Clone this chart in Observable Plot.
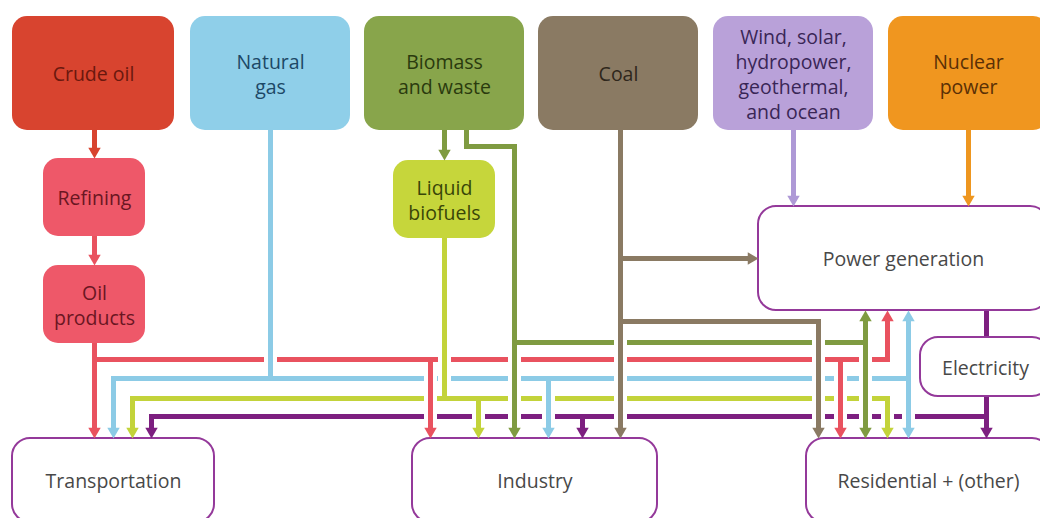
<!DOCTYPE html>
<html><head><meta charset="utf-8">
<script src="https://cdn.jsdelivr.net/npm/d3@7"></script>
<script src="https://cdn.jsdelivr.net/npm/@observablehq/plot@0.6"></script>
<style>
html,body{margin:0;padding:0;background:#fff;overflow:hidden;}
#chart svg{display:block;overflow:hidden;}
</style></head><body><div id="chart"></div>
<script>
const W = 1040, H = 518;

// ---- nodes (diagram boxes) ----
const nodeNames = ["Crude oil","Natural\ngas","Biomass\nand waste","Coal","Wind, solar,\nhydropower,\ngeothermal,\nand ocean","Nuclear\npower","Refining","Oil\nproducts","Liquid\nbiofuels","Power generation","Electricity","Transportation","Industry","Residential + (other)"];
const nodeKind   = ["source","source","source","source","source","source","step","step","step","use","use","use","use","use"];
const nodeLeft   = [12,190,364,538,713,888,43,43,393,758,920,12,412,806];
const nodeRight  = [174,350,524,698,873,1048,145,145,495,1048,1050,214,657,1050];
const nodeTop    = [16,16,16,16,16,16,158,265,160,206,337,438,438,438];
const nodeBottom = [130,130,130,130,130,130,236,343,238,310,396,522,522,522];

// ---- flows (carrier, route, arrowheads) ----
const flowCarrier = ["crude","oil","oil","oil","oil","oil","gas","gas","gas","gas","gas","biomass","biomass","biomass","biomass","biofuel","biofuel","biofuel","biofuel","coal","coal","coal","renew","nuclear","elec","elec","elec","elec"];
const flowRoute = [
  [[94,130],[94,158]],
  [[94,236],[94,265]],
  [[94,343],[94,438]],
  [[94,359],[887,359],[887,310]],
  [[430,359],[430,438]],
  [[840,359],[840,438]],
  [[270,130],[270,378]],
  [[113,378],[908,378]],
  [[113,378],[113,438]],
  [[548,378],[548,438]],
  [[908,310],[908,438]],
  [[444,130],[444,160]],
  [[466,130],[466,146],[514,146],[514,438]],
  [[514,342],[865,342]],
  [[865,310],[865,438]],
  [[444,238],[444,398]],
  [[132,398],[887,398],[887,438]],
  [[132,398],[132,438]],
  [[478,398],[478,438]],
  [[620,130],[620,438]],
  [[620,258],[758,258]],
  [[620,321],[818,321],[818,438]],
  [[793,130],[793,206]],
  [[968,130],[968,206]],
  [[986,310],[986,337]],
  [[986,396],[986,438]],
  [[986,416],[151,416],[151,438]],
  [[582,416],[582,438]]
];
const flowHeads = ["end","end","end","end","end","end","none","none","end","end","both","end","end","none","both","none","end","end","end","end","end","end","end","end","none","end","end","end"];

// ---- styles ----
const fillOf = {"Crude oil":"#d8442f","Natural\ngas":"#8fcfe9","Biomass\nand waste":"#88a54b","Coal":"#8a7a63","Wind, solar,\nhydropower,\ngeothermal,\nand ocean":"#b9a1d9","Nuclear\npower":"#f0961f","Refining":"#ee5869","Oil\nproducts":"#ee5869","Liquid\nbiofuels":"#c6d63b"};
const inkOf = {"Crude oil":"#6a180e","Natural\ngas":"#1d4866","Biomass\nand waste":"#2a3a0e","Coal":"#2f271c","Wind, solar,\nhydropower,\ngeothermal,\nand ocean":"#392656","Nuclear\npower":"#5a3006","Refining":"#6a1622","Oil\nproducts":"#6a1622","Liquid\nbiofuels":"#394608"};
const carrierColor = {crude:"#d8442f", oil:"#e9525f", gas:"#8ccbe6", biomass:"#7f9b41", biofuel:"#c3d33a", coal:"#8a7a63", renew:"#ae99d6", nuclear:"#ee961f", elec:"#7d1f80"};
const outline = "#94399a";

// ---- derived tables ----
const nodes = nodeNames.map((name, i) => ({name, kind: nodeKind[i], x1: nodeLeft[i], x2: nodeRight[i], y1: nodeTop[i], y2: nodeBottom[i]}));
const R = 4.6;                                   // arrowhead radius
const tipOff = 2 * Math.sqrt(Math.PI * R * R / (3 * Math.sqrt(3)));
const shorten = 8;

const segs = [], heads = [];
flowRoute.forEach((pts, f) => {
  const color = carrierColor[flowCarrier[f]];
  const h = flowHeads[f];
  const p = pts.map(q => q.slice());
  const orig = pts.map(q => q.slice());
  const addHead = (tip, from) => {
    const dx = Math.sign(tip[0] - from[0]), dy = Math.sign(tip[1] - from[1]);
    const rot = dy > 0 ? 180 : dy < 0 ? 0 : dx > 0 ? 90 : 270;
    heads.push({x: tip[0] - dx * tipOff, y: tip[1] - dy * tipOff, rot, color});
    return [tip[0] - dx * shorten, tip[1] - dy * shorten];
  };
  if (h === "end" || h === "both") p[p.length - 1] = addHead(orig[orig.length - 1], orig[orig.length - 2]);
  if (h === "both") p[0] = addHead(orig[0], orig[1]);
  for (let i = 0; i < p.length - 1; i++) {
    segs.push({x1: p[i][0], y1: p[i][1], x2: p[i+1][0], y2: p[i+1][1],
               ox1: orig[i][0], oy1: orig[i][1], ox2: orig[i+1][0], oy2: orig[i+1][1],
               color, flow: f, horiz: p[i][1] === p[i+1][1]});
  }
});
const hSegs = segs.filter(s => s.horiz), vSegs = segs.filter(s => !s.horiz);
const gaps = [];
for (const hs of hSegs) for (const vs of vSegs) {
  const hx0 = Math.min(hs.ox1, hs.ox2), hx1 = Math.max(hs.ox1, hs.ox2);
  const vy0 = Math.min(vs.oy1, vs.oy2), vy1 = Math.max(vs.oy1, vs.oy2);
  const x = vs.ox1, y = hs.oy1;
  if (x > hx0 + 1 && x < hx1 - 1 && y > vy0 + 1 && y < vy1 - 1) gaps.push({x, y});
}

const filled = nodes.filter(d => d.kind !== "use");
const uses = nodes.filter(d => d.kind === "use");

const chart = Plot.plot({
  width: W, height: H,
  margin: 0,
  x: {domain: [0, W], axis: null},
  y: {domain: [H, 0], axis: null},
  style: {fontFamily: "'Open Sans', sans-serif", background: "#fff", overflow: "hidden"},
  marks: [
    Plot.link(hSegs, {x1: "x1", y1: "y1", x2: "x2", y2: "y2", stroke: "color", strokeWidth: 5, strokeLinecap: "square"}),
    Plot.link(gaps, {x1: d => d.x - 6.5, x2: d => d.x + 6.5, y1: "y", y2: "y", stroke: "#fff", strokeWidth: 8}),
    Plot.link(vSegs, {x1: "x1", y1: "y1", x2: "x2", y2: "y2", stroke: "color", strokeWidth: 5, strokeLinecap: "square"}),
    Plot.rect(filled, {x1: "x1", x2: "x2", y1: "y1", y2: "y2", fill: d => fillOf[d.name], rx: 15}),
    Plot.rect(uses, {x1: "x1", x2: "x2", y1: "y1", y2: "y2", fill: "#fff", stroke: outline, strokeWidth: 2, rx: 18}),
    Plot.dot(heads, {x: "x", y: "y", symbol: "triangle", r: R, rotate: "rot", fill: "color", stroke: "none"}),
    Plot.text(nodes, {x: d => (d.x1 + d.x2) / 2, y: d => (d.y1 + d.y2) / 2, text: "name",
      fill: d => inkOf[d.name] || "#484848", fontSize: 19.5, lineHeight: 1.27})
  ]
});
document.getElementById("chart").appendChild(chart);
</script></body></html>
